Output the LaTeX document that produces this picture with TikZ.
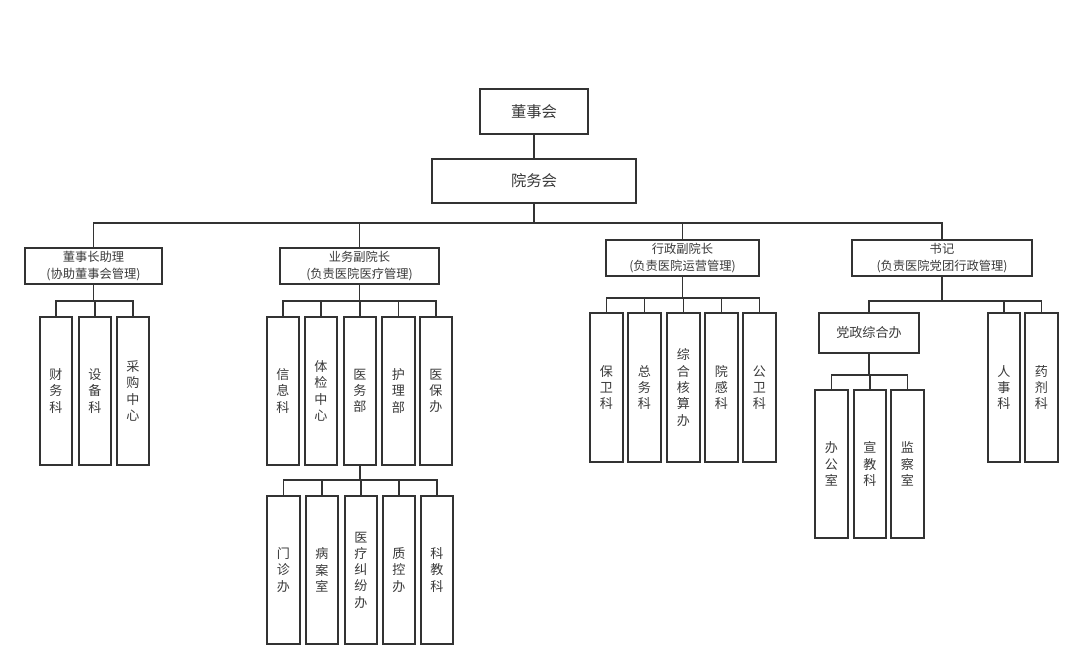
\documentclass[tikz,border=0pt]{standalone}
\usepackage{fontspec}
\newfontfamily\cjk{Noto Sans CJK SC}
\definecolor{lc}{HTML}{333333}
\definecolor{tc}{HTML}{3A3A3A}
\tikzset{
  box/.style={draw=lc, line width=1.6pt, inner sep=0pt, fill=white, text=tc, align=center},
  big/.style={box, font=\cjk\fontsize{11.5}{14}\selectfont},
  mid/.style={box, font=\cjk\fontsize{9.2}{12.8}\selectfont},
  vert/.style={box, font=\cjk\fontsize{9.8}{12.2}\selectfont},
  conn/.style={draw=lc, line width=1.3pt}
}
\newcommand\Bx[7]{\node[#1, minimum width={(#5-#3)*0.75pt}, minimum height={(#6-#4)*0.75pt}] (#2) at ({(#3+#5)/2},{(#4+#6)/2}) {#7};}
\begin{document}
\begin{tikzpicture}[x=0.75pt,y=-0.75pt]
\useasboundingbox (0,0) rectangle (1082,669);

% top levels
\Bx{big}{dsh}{480}{89}{588}{134}{董事会}
\Bx{big}{ywh}{432}{159}{636}{203}{院务会}
\Bx{mid}{dsz}{25}{248}{162}{284}{董事长助理\\(协助董事会管理)}
\Bx{mid}{ywf}{280}{248}{439}{284}{业务副院长\\(负责医院医疗管理)}
\Bx{mid}{xzf}{606}{240}{759}{276}{行政副院长\\(负责医院运营管理)}
\Bx{mid}{sj}{852}{240}{1032}{276}{书记\\(负责医院党团行政管理)}

% 董事长助理 children
\Bx{vert}{cw}{40}{317}{72}{465}{财\\务\\科}
\Bx{vert}{sb}{79}{317}{111}{465}{设\\备\\科}
\Bx{vert}{cg}{117}{317}{149}{465}{采\\购\\中\\心}

% 业务副院长 children
\Bx{vert}{xx}{267}{317}{299}{465}{信\\息\\科}
\Bx{vert}{tj}{305}{317}{337}{465}{体\\检\\中\\心}
\Bx{vert}{yw}{344}{317}{376}{465}{医\\务\\部}
\Bx{vert}{hl}{382}{317}{415}{465}{护\\理\\部}
\Bx{vert}{yb}{420}{317}{452}{465}{医\\保\\办}

% 医务部 children
\Bx{vert}{mz}{267}{496}{300}{644}{门\\诊\\办}
\Bx{vert}{ba}{306}{496}{338}{644}{病\\案\\室}
\Bx{vert}{yl}{345}{496}{377}{644}{医\\疗\\纠\\纷\\办}
\Bx{vert}{zk}{383}{496}{415}{644}{质\\控\\办}
\Bx{vert}{kj}{421}{496}{453}{644}{科\\教\\科}

% 行政副院长 children
\Bx{vert}{bw}{590}{313}{623}{462}{保\\卫\\科}
\Bx{vert}{zw}{628}{313}{661}{462}{总\\务\\科}
\Bx{vert}{zh}{667}{313}{700}{462}{综\\合\\核\\算\\办}
\Bx{vert}{yg}{705}{313}{738}{462}{院\\感\\科}
\Bx{vert}{gw}{743}{313}{776}{462}{公\\卫\\科}

% 书记 children
\Bx{vert}{dz}{819}{313}{919}{353}{党政综合办}
\Bx{vert}{rs}{988}{313}{1020}{462}{人\\事\\科}
\Bx{vert}{yj}{1025}{313}{1058}{462}{药\\剂\\科}

% 党政综合办 children
\Bx{vert}{bg}{815}{390}{848}{538}{办\\公\\室}
\Bx{vert}{xj}{854}{390}{886}{538}{宣\\教\\科}
\Bx{vert}{jc}{891}{390}{924}{538}{监\\察\\室}

% connectors
\draw[conn] (dsh.south) -- (dsh.south |- ywh.north);

\draw[conn] (ywh.south) -- ++(0,19) coordinate (b0);
\foreach \c in {dsz,ywf,xzf,sj} \draw[conn] (b0) -| (\c.north);

\draw[conn] (dsz.south) -- ++(0,16) coordinate (b1);
\foreach \c in {cw,sb,cg} \draw[conn] (b1) -| (\c.north);

\draw[conn] (ywf.south) -- ++(0,16) coordinate (b2);
\foreach \c in {xx,tj,yw,hl,yb} \draw[conn] (b2) -| (\c.north);

\draw[conn] (yw.south) -- ++(0,14) coordinate (b3);
\foreach \c in {mz,ba,yl,zk,kj} \draw[conn] (b3) -| (\c.north);

\draw[conn] (xzf.south) -- ++(0,21) coordinate (b4);
\foreach \c in {bw,zw,zh,yg,gw} \draw[conn] (b4) -| (\c.north);

\draw[conn] (sj.south) -- ++(0,24) coordinate (b5);
\foreach \c in {dz,rs,yj} \draw[conn] (b5) -| (\c.north);

\draw[conn] (dz.south) -- ++(0,21) coordinate (b6);
\foreach \c in {bg,xj,jc} \draw[conn] (b6) -| (\c.north);
\end{tikzpicture}
\end{document}
